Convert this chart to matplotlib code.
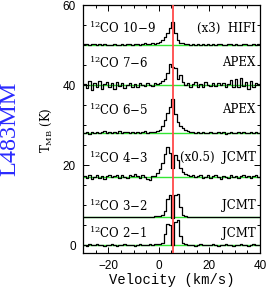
import numpy as np
import matplotlib
matplotlib.use("Agg")
from matplotlib import pyplot as plt
from matplotlib.ticker import MultipleLocator

plt.rcParams['mathtext.fontset'] = 'dejavuserif'

# channel centres (km/s), 1 km/s channels from -30 to 40
velocity = np.arange(-29.5, 40.0, 1.0)
v_lsr = 5.5

# spectra relative to their own baseline (K, already scaled as plotted)
co21 = [0.1, -0.2, 0.2, 0.0, -0.1, 0.2, -0.1, 0.1, -0.2, 0.1,
        0.0, 0.2, -0.1, -0.2, 0.1, 0.0, 0.2, -0.1, 0.1, 0.0,
        -0.2, 0.1, 0.2, -0.1, 0.0, 0.1, 0.2, 0.1, 0.2, 0.3,
        0.2, 0.6, 2.8, 5.3, 5.0, 0.0, 5.8, 6.2, 2.2, 0.5,
        0.2, -0.1, 0.1, 0.0, -0.2, 0.1, 0.2, -0.1, 0.0, 0.1,
        -0.1, 0.2, 0.0, -0.2, 0.1, 0.0, 0.2, -0.1, 0.1, -0.2,
        0.1, 0.0, 0.2, -0.1, 0.1, -0.2, 0.0, 0.2, -0.1, 0.1]
co32 = [0.0, 0.1, -0.1, 0.1, 0.0, -0.1, 0.1, 0.0, 0.1, -0.1,
        0.1, 0.0, -0.1, 0.1, 0.0, 0.1, -0.1, 0.0, 0.1, 0.0,
        0.1, -0.1, 0.0, 0.1, 0.0, 0.1, 0.0, 0.1, 0.2, 0.2,
        0.3, 0.4, 1.5, 4.5, 5.5, -0.3, 5.5, 5.8, 2.5, 0.6,
        0.2, 0.1, 0.0, -0.1, 0.1, 0.0, 0.1, -0.1, 0.0, 0.1,
        0.0, -0.1, 0.1, 0.0, 0.1, -0.1, 0.0, 0.1, 0.0, -0.1,
        0.1, 0.0, -0.1, 0.1, 0.0, 0.1, -0.1, 0.0, 0.1, 0.0]
co43 = [0.2, -0.3, 0.4, -0.5, 0.1, 0.5, -0.2, 0.3, -0.4, 0.2,
        0.4, -0.1, 0.3, 0.6, -0.2, 0.4, 0.1, -0.3, 0.5, 0.2,
        0.8, 0.3, -0.2, 0.4, 0.1, -0.5, -0.7, 0.2, 0.3, 1.0,
        2.0, 3.5, 5.8, 7.5, 6.0, 2.3, 5.5, 4.2, 2.3, 1.2,
        0.7, 0.4, 0.2, 0.5, -0.1, 0.3, 0.6, -0.2, 0.1, 0.4,
        -0.3, 0.2, 0.5, 0.0, -0.4, 0.3, 0.1, -0.2, 0.4, 0.0,
        0.3, -0.2, 0.2, 0.5, -0.1, 0.3, -0.3, 0.2, 0.4, 0.1]
co65 = [0.1, 0.3, -0.2, 0.2, 0.0, 0.3, -0.1, 0.2, 0.4, 0.0,
        0.2, -0.1, 0.3, 0.1, 0.4, 0.0, 0.2, 0.3, -0.1, 0.2,
        0.1, 0.3, 0.0, 0.2, 0.4, 0.1, 0.3, 0.2, 0.3, 0.5,
        0.8, 1.8, 3.3, 5.0, 6.5, 8.5, 4.8, 2.8, 1.8, 1.2,
        0.7, 0.4, 0.2, 0.3, 0.0, 0.2, -0.1, 0.3, 0.1, 0.0,
        0.2, -0.1, 0.1, 0.3, 0.0, 0.2, -0.2, 0.1, 0.2, 0.0,
        0.1, 0.3, -0.1, 0.2, 0.0, 0.1, 0.3, -0.1, 0.2, 0.1]
co76 = [0.3, -0.8, 1.0, -1.2, 0.5, -0.4, 0.9, -1.0, 0.2, 0.7,
        -0.6, 0.4, -0.9, 0.8, -0.3, 0.6, -0.7, 0.1, 0.5, -0.4,
        0.3, -0.5, 0.6, 0.0, -0.3, 0.4, 0.1, -0.2, 0.5, 0.3,
        0.5, 0.9, 1.6, 3.0, 5.2, 4.5, 4.3, 1.4, 2.4, 0.7,
        0.0, 0.6, -0.5, 0.3, 0.8, -0.6, 0.2, -0.4, 0.7, 0.1,
        -0.3, 0.5, -0.2, 0.4, 0.0, 0.6, -0.5, 0.3, 1.2, -0.4,
        1.5, -0.6, 1.7, -0.2, 0.8, -1.0, 1.0, -0.5, 0.4, 0.2]
co109 = [0.2, 0.3, 0.1, 0.3, 0.2, 0.0, 0.2, 0.1, 0.3, 0.1,
         0.0, 0.1, 0.2, 0.0, 0.1, 0.2, 0.1, 0.3, 0.2, 0.1,
         0.2, 0.3, 0.1, 0.2, 0.4, 0.3, 0.2, 0.4, 0.3, 0.4,
         0.7, 1.3, 2.0, 3.0, 4.2, 5.7, 3.0, 1.2, 0.6, 0.4,
         0.2, 0.3, 0.1, 0.2, 0.0, 0.2, 0.1, 0.3, 0.1, 0.2,
         0.0, 0.2, 0.1, 0.3, 0.2, 0.0, 0.1, 0.2, 0.3, 0.1,
         0.2, 0.0, 0.1, 0.3, 0.2, 0.1, 0.0, 0.2, 0.1, 0.3]

spectra = [co21, co32, co43, co65, co76, co109]
offsets = [0, 7, 17, 28, 40, 50]
transitions = ["2\u22121", "3\u22122", "4\u22123", "6\u22125", "7\u22126", "10\u22129"]
telescopes = ["JCMT", "JCMT", "(x0.5)  JCMT", "APEX", "APEX", "(x3)  HIFI"]
label_y = [3.0, 9.8, 21.8, 33.8, 45.6, 54.2]

fig = plt.figure(figsize=(2.67, 2.89), dpi=100)
ax = fig.add_axes([83 / 267, 1 - 253 / 289, 177 / 267, 248 / 289])

for spec, off, tr, tel, ly in zip(spectra, offsets, transitions, telescopes, label_y):
    ax.axhline(off, color='#33e633', lw=1.0, zorder=1)
    ax.plot(velocity, np.array(spec) + off, color='black', lw=0.9,
            drawstyle='steps-mid', zorder=2)
    ax.text(-27.5, ly, "$^{12}$CO " + tr, fontsize=8.5, family='DejaVu Serif',
            ha='left', va='center')
    ax.text(38.2, ly, tel, fontsize=8.5, family='DejaVu Serif',
            ha='right', va='center')

ax.axvline(v_lsr, color='#ff4a4a', lw=1.3, zorder=3)

ax.set_xlim(-30, 40)
ax.set_ylim(-2, 60)
ax.xaxis.set_major_locator(MultipleLocator(20))
ax.xaxis.set_minor_locator(MultipleLocator(5))
ax.yaxis.set_major_locator(MultipleLocator(20))
ax.yaxis.set_minor_locator(MultipleLocator(5))
ax.tick_params(which='both', direction='in', top=True, right=True, width=0.7)
ax.tick_params(which='major', length=4, pad=5, labelsize=8.5)
ax.tick_params(which='minor', length=2.5)
for lab in ax.get_xticklabels() + ax.get_yticklabels():
    lab.set_family('Liberation Sans')
for sp in ax.spines.values():
    sp.set_linewidth(0.9)

ax.set_xlabel("Velocity (km/s)", family='Liberation Mono', fontsize=10, labelpad=1)
fig.text(46 / 267, 1 - 130 / 289, "T$_{\\rm MB}$ (K)", rotation=90, fontsize=8.5,
         family='DejaVu Serif', ha='center', va='center')
fig.text(10 / 267, 1 - 129 / 289, "L483MM", rotation=90, fontsize=17.5,
         family='Liberation Serif', color='#2a2aff', ha='center', va='center')

fig.savefig("out.png", dpi=100)
